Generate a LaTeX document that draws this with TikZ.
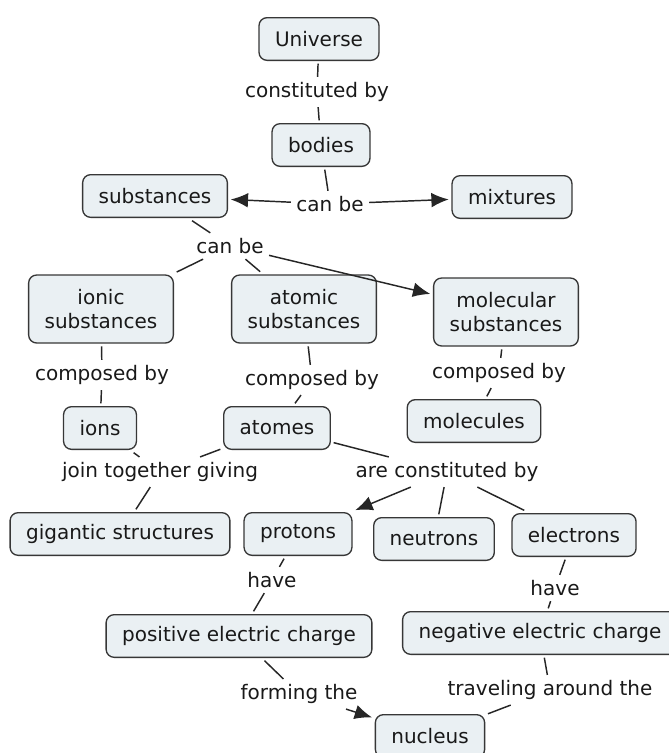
\documentclass[tikz,border=0pt]{standalone}
\usepackage{fontspec}
\setmainfont{DejaVu Sans}
\usetikzlibrary{arrows.meta}
\definecolor{conceptfill}{RGB}{234,240,243}
\definecolor{conceptline}{RGB}{55,55,55}
\tikzset{concept/.style={draw=conceptline, fill=conceptfill, line width=1pt, rounded corners=6pt, inner xsep=12pt, inner ysep=8pt, minimum height=32pt, align=center, outer sep=2.5pt, text=black!90, font=\fontsize{15pt}{18pt}\selectfont},
  tallconcept/.style={concept, minimum height=51pt},
  link/.style={inner sep=3.5pt, text=black!90, font=\fontsize{15pt}{18pt}\selectfont}}

\begin{document}
\begin{tikzpicture}[x=0.75pt,y=-0.75pt,line width=1.1pt,draw=black!85,>={Latex[length=13pt,width=11pt]}]
   \useasboundingbox (0,0) rectangle (668,753);
   \node[concept] (universe)  at (319,39)  {Universe};
   \node[link]    (constby)   at (317,92)  {constituted by};
   \node[concept] (bodies)    at (321,145) {bodies};
   \node[concept] (subst)     at (155,196) {substances};
   \node[link]    (canbeA)    at (330,204) {can be};
   \node[concept] (mixtures)  at (512,197) {mixtures};
   \node[link]    (canbeB)    at (230,246) {can be};
   \node[tallconcept] (ionic)     at (101,309) {ionic\\substances};
   \node[tallconcept] (atomic)    at (304,309) {atomic\\substances};
   \node[tallconcept] (molecular) at (506,312) {molecular\\substances};
   \node[link]    (compA)     at (102,375) {composed by};
   \node[link]    (compB)     at (312,380) {composed by};
   \node[link]    (compC)     at (499,373) {composed by};
   \node[concept] (ions)      at (100,428) {ions};
   \node[concept] (atomes)    at (277,428) {atomes};
   \node[concept] (molecules) at (474,421) {molecules};
   \node[link]    (join)      at (160,472) {join together giving};
   \node[link]    (areconst)  at (447,472) {are constituted by};
   \node[concept] (gigantic)  at (120,534) {gigantic structures};
   \node[concept] (protons)   at (298,534) {protons};
   \node[concept] (neutrons)  at (434,539) {neutrons};
   \node[concept] (electrons) at (574,535) {electrons};
   \node[link]    (haveA)     at (272,580) {have};
   \node[link]    (haveB)     at (555,588) {have};
   \node[concept] (positive)  at (239,636) {positive electric charge};
   \node[concept] (negative)  at (540,633) {negative electric charge};
   \node[link]    (forming)   at (299,694) {forming the};
   \node[link]    (traveling) at (550,690) {traveling around the};
   \node[concept] (nucleus)   at (430,736) {nucleus};
   \draw (universe) -- (constby);
   \draw (constby) -- (bodies);
   \draw (bodies) -- (canbeA);
   \draw[->] (canbeA) -- (subst);
   \draw[->] (canbeA) -- (mixtures);
   \draw (subst) -- (canbeB);
   \draw (canbeB) -- (ionic);
   \draw (canbeB) -- (atomic);
   \draw[->] (canbeB) -- (molecular);
   \draw (ionic) -- (compA);
   \draw (compA) -- (ions);
   \draw (atomic) -- (compB);
   \draw (compB) -- (atomes);
   \draw (molecular) -- (compC);
   \draw (compC) -- (molecules);
   \draw (ions) -- (join);
   \draw (atomes) -- (join);
   \draw (join) -- (gigantic);
   \draw (atomes) -- (areconst);
   \draw[->] (areconst) -- (protons);
   \draw (areconst) -- (neutrons);
   \draw (areconst) -- (electrons);
   \draw (protons) -- (haveA);
   \draw (haveA) -- (positive);
   \draw (electrons) -- (haveB);
   \draw (haveB) -- (negative);
   \draw (positive) -- (forming);
   \draw[->] (forming) -- (nucleus);
   \draw (negative) -- (traveling);
   \draw (traveling) -- (nucleus);
\end{tikzpicture}
\end{document}
